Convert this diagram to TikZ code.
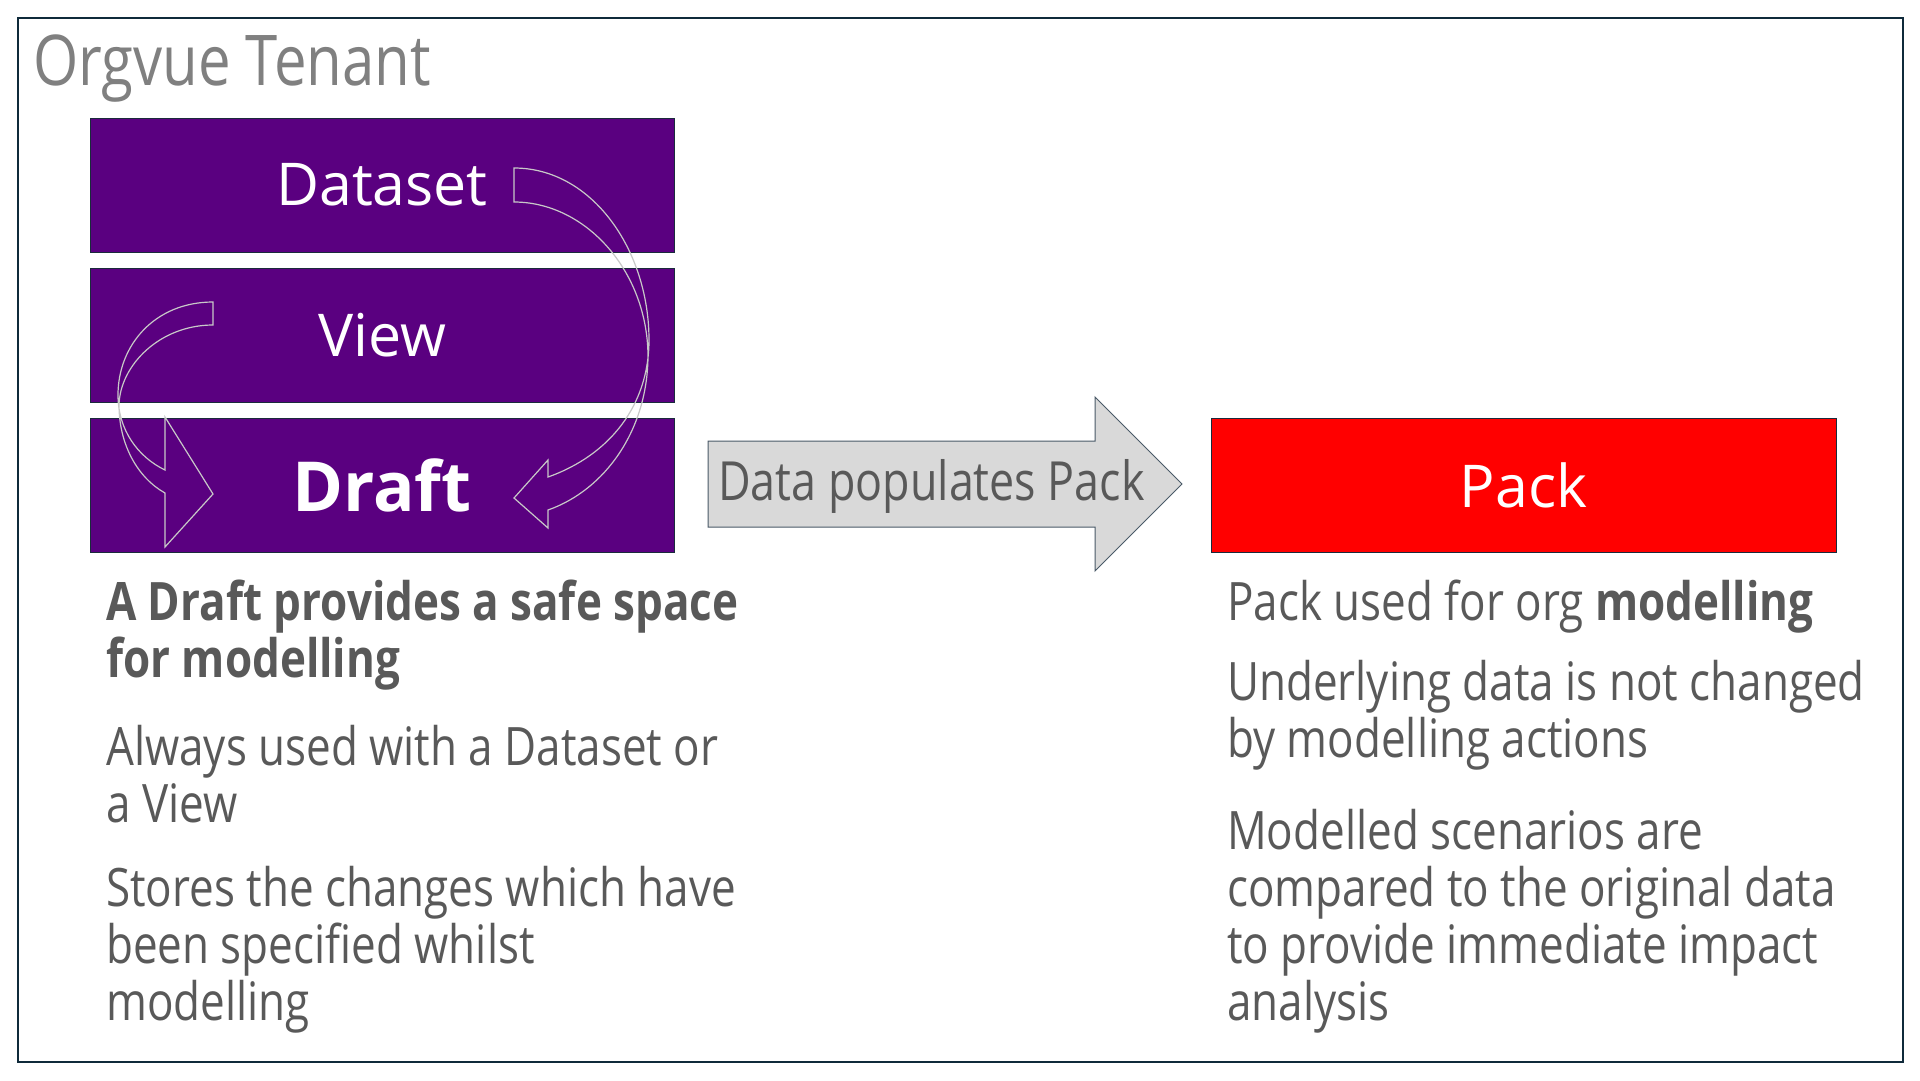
\documentclass[tikz,border=0pt]{standalone}
\usepackage{fontspec}
\setmainfont{Open Sans}
\newfontfamily\bodyfont[FakeStretch=0.83]{Open Sans}
\definecolor{purp}{HTML}{5A0080}
\definecolor{framec}{HTML}{0F2A3A}
\definecolor{boxline}{HTML}{1A2B3C}
\definecolor{arrfill}{HTML}{D9D9D9}
\definecolor{arrline}{HTML}{4A5A68}
\definecolor{txtgray}{HTML}{595959}
\definecolor{titlegray}{HTML}{808080}
\definecolor{curvec}{HTML}{C8C8C8}
\definecolor{packred}{HTML}{FF0000}
\tikzset{
  layerbox/.style={draw=boxline, line width=1pt, fill=purp, text=white, inner sep=0pt,
    minimum width=584pt, minimum height=134pt, font=\fontsize{59}{66}\selectfont},
  packbox/.style={draw=boxline, line width=1pt, fill=packred, text=white, inner sep=0pt,
    minimum width=625pt, minimum height=134pt, font=\fontsize{59}{66}\selectfont},
  para/.style={anchor=base west, align=left, inner sep=0pt, text=txtgray,
    font=\bodyfont\fontsize{53}{57}\selectfont},
  curvearrow/.style={draw=curvec, line width=1.2pt, line join=miter},
  bigarrow/.style={draw=arrline, line width=1pt, fill=arrfill}
}
\begin{document}
\begin{tikzpicture}[x=1pt,y=-1pt]
\useasboundingbox (0,0) rectangle (1920,1080);
\fill[white] (0,0) rectangle (1920,1080);
% frame
\draw[draw=framec, line width=2.7pt] (18,18) rectangle (1903,1062);
\node[anchor=base west, inner sep=0pt, text=titlegray, font=\bodyfont\fontsize{70}{76}\selectfont] (title) at (33,85) {Orgvue Tenant};
% layer boxes
\node[layerbox] (dataset) at (382,185) {Dataset};
\node[layerbox] (view) at (382,335) {View};
\node[layerbox, font=\bfseries\fontsize{69}{75}\selectfont] (draft) at (382,485.5) {Draft};
% curved arrow Dataset -> Draft
\draw[curvearrow] (514,168) .. controls (592,168) and (649,250) .. (649,340)
  .. controls (649,405) and (610,455) .. (548,477)
  -- (548,460) -- (514,498) -- (548,528) -- (548,510)
  .. controls (605,490) and (648,430) .. (648,355)
  .. controls (647,270) and (585,202) .. (514,202) -- cycle;
% curved arrow View -> Draft
\draw[curvearrow] (213,302) .. controls (155,302) and (118,345) .. (118,395)
  .. controls (118,430) and (138,457) .. (165,470)
  -- (165,417) -- (213,494) -- (165,547) -- (165,493)
  .. controls (138,478) and (119,445) .. (119,405)
  .. controls (120,365) and (160,325) .. (213,325) -- cycle;
% big arrow
\draw[bigarrow] (708,441) -- (1095,441) -- (1095,397) -- (1182,484) -- (1095,571) -- (1095,527) -- (708,527) -- cycle;
\node[anchor=base west, inner sep=0pt, text=txtgray, font=\bodyfont\fontsize{54}{60}\selectfont] (flow) at (718,500) {Data populates Pack};
% pack
\node[packbox] (pack) at (1523.5,485) {Pack};
% left texts (anchor = baseline of last line)
\node[para, font=\bodyfont\bfseries\fontsize{53}{57}\selectfont] (l1) at (106,677) {A Draft provides a safe space\\for modelling};
\node[para] (l2) at (106,822) {Always used with a Dataset or\\a View};
\node[para] (l3) at (106,1020) {Stores the changes which have\\been specified whilst\\modelling};
% right texts
\node[para] (r1) at (1227,620) {Pack used for org \textbf{modelling}};
\node[para] (r2) at (1227,757) {Underlying data is not changed\\by modelling actions};
\node[para] (r3) at (1227,1020) {Modelled scenarios are\\compared to the original data\\to provide immediate impact\\analysis};
\end{tikzpicture}
\end{document}
